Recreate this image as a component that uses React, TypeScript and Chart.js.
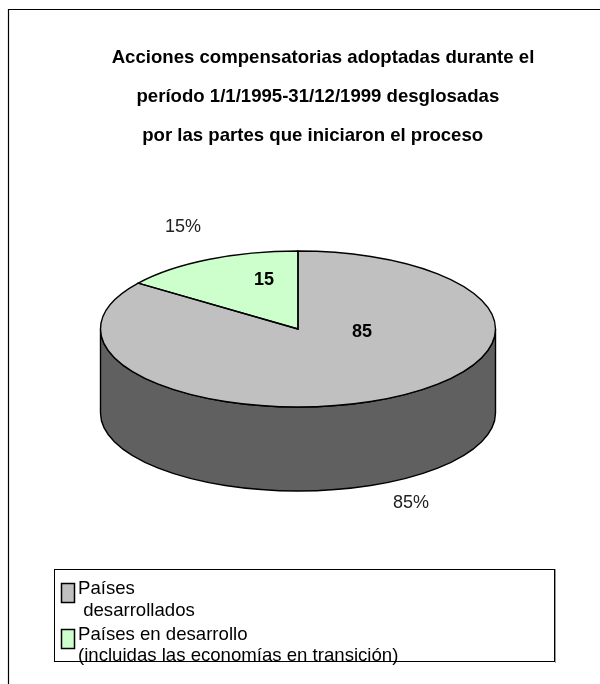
import React, { useEffect, useRef } from "react";
import { Chart, registerables } from "chart.js";

Chart.register(...registerables);

const categories: string[][] = [
  ["Países", " desarrollados"],
  ["Países en desarrollo", "(incluidas las economías en transición)"],
];
const values: number[] = [85, 15];
const sliceColors: string[] = ["#C0C0C0", "#CCFFCC"];
const titleLines: string[] = [
  "Acciones compensatorias adoptadas durante el",
  "período 1/1/1995-31/12/1999 desglosadas  ",
  "por las partes que iniciaron el proceso    ",
];

const FONT = '"Liberation Sans", Arial, sans-serif';
const PIE_X = 298;
const PIE_Y = 329;
const RY = 78;
const DEPTH = 84;
const SIDE = "#606060";
const INK = "#000000";
const valuePos = [[362, 332], [264, 280]];
const percentPos = [[411, 503], [183, 227]];

const pie3d = {
  id: "pie3d",
  beforeDraw(chart: any) {
    const ctx = chart.ctx;
    ctx.save();
    ctx.fillStyle = "#fff";
    ctx.fillRect(0, 0, chart.width, chart.height);
    ctx.strokeStyle = INK;
    ctx.lineWidth = 1.2;
    ctx.beginPath();
    ctx.moveTo(8.5, chart.height + 5);
    ctx.lineTo(8.5, 9.5);
    ctx.lineTo(chart.width + 5, 9.5);
    ctx.stroke();
    ctx.restore();
  },
  beforeDatasetDraw(chart: any) {
    const ctx = chart.ctx;
    const arcs = chart.getDatasetMeta(0).data;
    const a0 = arcs[0];
    const rx = a0.outerRadius;
    // extruded rim, front half only
    ctx.save();
    arcs.forEach((arc: any) => {
      const a = Math.max(arc.startAngle, 0);
      const b = Math.min(arc.endAngle, Math.PI);
      if (b <= a) return;
      ctx.beginPath();
      ctx.ellipse(PIE_X, PIE_Y, rx, RY, 0, a, b);
      ctx.ellipse(PIE_X, PIE_Y + DEPTH, rx, RY, 0, b, a, true);
      ctx.closePath();
      ctx.fillStyle = SIDE;
      ctx.fill();
      ctx.strokeStyle = INK;
      ctx.lineWidth = 1.4;
      ctx.stroke();
    });
    ctx.restore();
    // flatten the library's own arcs onto the ellipse
    ctx.save();
    ctx.translate(PIE_X, PIE_Y);
    ctx.scale(1, RY / rx);
    ctx.translate(-a0.x, -a0.y);
  },
  afterDatasetDraw(chart: any) {
    const ctx = chart.ctx;
    ctx.restore();
    const arcs = chart.getDatasetMeta(0).data;
    ctx.save();
    ctx.strokeStyle = INK;
    ctx.lineWidth = 1.4;
    ctx.lineJoin = "miter";
    arcs.forEach((arc: any) => {
      ctx.beginPath();
      ctx.moveTo(PIE_X, PIE_Y);
      ctx.ellipse(PIE_X, PIE_Y, arc.outerRadius, RY, 0, arc.startAngle, arc.endAngle);
      ctx.closePath();
      ctx.stroke();
    });
    ctx.restore();
  },
  afterDraw(chart: any) {
    const ctx = chart.ctx;
    const data = chart.data.datasets[0].data as number[];
    const total = data.reduce((s, v) => s + v, 0);
    ctx.save();
    ctx.textBaseline = "middle";
    ctx.textAlign = "center";
    data.forEach((v, i) => {
      ctx.fillStyle = "#000";
      ctx.font = `bold 18px ${FONT}`;
      ctx.fillText(String(v), valuePos[i][0], valuePos[i][1]);
      ctx.fillStyle = "#222";
      ctx.font = `18px ${FONT}`;
      ctx.fillText(`${Math.round((v / total) * 100)}%`, percentPos[i][0], percentPos[i][1]);
    });
    // legend
    ctx.strokeStyle = INK;
    ctx.lineWidth = 1;
    ctx.strokeRect(54.5, 569.5, 500, 92);
    ctx.strokeStyle = "#999";
    ctx.beginPath();
    ctx.moveTo(555.5, 569);
    ctx.lineTo(555.5, 663);
    ctx.stroke();
    ctx.textAlign = "left";
    ctx.textBaseline = "alphabetic";
    ctx.font = `18.6px ${FONT}`;
    const swatchY = [583, 629];
    const baselines = [[594, 616], [640, 661]];
    categories.forEach((lines, i) => {
      ctx.fillStyle = sliceColors[i];
      ctx.fillRect(61.5, swatchY[i] + 0.5, 13, 19);
      ctx.strokeStyle = INK;
      ctx.lineWidth = 1.5;
      ctx.strokeRect(61.5, swatchY[i] + 0.5, 13, 19);
      ctx.fillStyle = "#000";
      lines.forEach((t, j) => ctx.fillText(t, 78, baselines[i][j]));
    });
    ctx.restore();
  },
};

export default function App() {
  const ref = useRef<HTMLCanvasElement>(null);
  useEffect(() => {
    const chart = new Chart(ref.current!, {
      type: "pie",
      data: {
        labels: categories.map((c) => c.join(" ")),
        datasets: [
          {
            data: values,
            backgroundColor: sliceColors,
            borderWidth: 0,
            clip: false,
          } as any,
        ],
      },
      options: {
        responsive: false,
        animation: false,
        layout: { padding: { left: 46, right: 0, top: 0, bottom: 134 } },
        plugins: {
          legend: { display: false },
          tooltip: { enabled: false },
          title: {
            display: true,
            text: titleLines,
            color: "#000",
            font: { family: FONT, size: 18.6, weight: "bold", lineHeight: "39px" as any },
            padding: { top: 38, bottom: 0 },
          },
        },
      },
      plugins: [pie3d],
    });
    return () => chart.destroy();
  }, []);
  return (
    <canvas
      ref={ref}
      width={600}
      height={684}
      style={{ position: "absolute", left: 0, top: 0, display: "block", width: 600, height: 684 }}
    />
  );
}
